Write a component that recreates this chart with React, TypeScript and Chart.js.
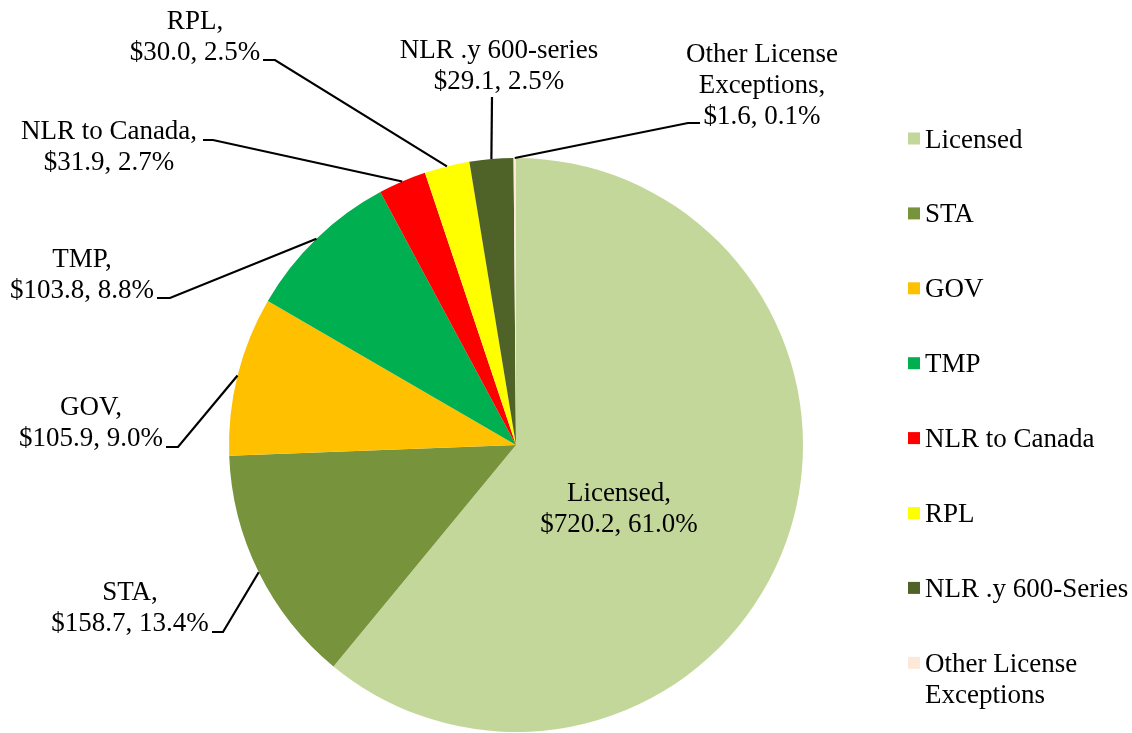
import React, { useEffect, useRef } from "react";
import { Chart, registerables } from "chart.js";

Chart.register(...registerables);

const categories = [
  "Licensed",
  "STA",
  "GOV",
  "TMP",
  "NLR to Canada",
  "RPL",
  "NLR .y 600-Series",
  "Other License Exceptions",
];
const values = [720.2, 158.7, 105.9, 103.8, 31.9, 30.0, 29.1, 1.6];
const percents = [61.0, 13.4, 9.0, 8.8, 2.7, 2.5, 2.5, 0.1];
const labelNames = [
  ["Licensed,"],
  ["STA,"],
  ["GOV,"],
  ["TMP,"],
  ["NLR to Canada,"],
  ["RPL,"],
  ["NLR .y 600-series"],
  ["Other License", "Exceptions,"],
];
const legendLines = [
  ["Licensed"],
  ["STA"],
  ["GOV"],
  ["TMP"],
  ["NLR to Canada"],
  ["RPL"],
  ["NLR .y 600-Series"],
  ["Other License", "Exceptions"],
];
const colors = [
  "#C4D79B",
  "#77933C",
  "#FFC000",
  "#00B050",
  "#FF0000",
  "#FFFF00",
  "#4F6228",
  "#FDE9D9",
];

// label layout: center x, first baseline, leader points (from text side toward the arc)
type LabelLayout = { cx: number; y0: number; leader: number[][] | null };
const labelLayout: LabelLayout[] = [
  { cx: 619, y0: 501, leader: null },
  { cx: 130, y0: 600, leader: [[212, 632], [223, 632]] },
  { cx: 91, y0: 415, leader: [[166, 447], [178, 447]] },
  { cx: 82, y0: 267, leader: [[157, 298], [170, 298]] },
  { cx: 109, y0: 139, leader: [[203, 140], [213, 140]] },
  { cx: 195, y0: 29, leader: [[263, 60], [275, 60]] },
  { cx: 499, y0: 58, leader: [[492, 97]] },
  { cx: 762, y0: 62, leader: [[700, 123], [688, 123]] },
];

const FONT = '27px "Liberation Serif", "Times New Roman", serif';
const LINE_H = 31;

const labelPlugin = {
  id: "pieLabels",
  afterDatasetsDraw(chart: any) {
    const ctx = chart.ctx;
    const meta = chart.getDatasetMeta(0);
    ctx.save();
    ctx.font = FONT;
    ctx.fillStyle = "#000";
    ctx.strokeStyle = "#000";
    ctx.lineWidth = 2.2;
    ctx.textAlign = "center";
    ctx.textBaseline = "alphabetic";
    meta.data.forEach((el: any, i: number) => {
      const p = el.getProps(["x", "y", "startAngle", "endAngle", "outerRadius"], true);
      const mid = (p.startAngle + p.endAngle) / 2;
      const ax = p.x + Math.cos(mid) * p.outerRadius;
      const ay = p.y + Math.sin(mid) * p.outerRadius;
      const lay = labelLayout[i];
      const lines = [
        ...labelNames[i],
        `$${values[i].toFixed(1)}, ${percents[i].toFixed(1)}%`,
      ];
      lines.forEach((t, k) => ctx.fillText(t, lay.cx, lay.y0 + k * LINE_H));
      if (lay.leader) {
        ctx.beginPath();
        ctx.moveTo(lay.leader[0][0], lay.leader[0][1]);
        for (let k = 1; k < lay.leader.length; k++) ctx.lineTo(lay.leader[k][0], lay.leader[k][1]);
        ctx.lineTo(ax, ay);
        ctx.stroke();
      }
    });
    // legend
    ctx.textAlign = "left";
    categories.forEach((_c, i) => {
      const cy = 138.5 + i * 74.9;
      ctx.fillStyle = colors[i];
      ctx.fillRect(908, cy - 6, 12, 12);
      ctx.fillStyle = "#000";
      legendLines[i].forEach((t, k) => ctx.fillText(t, 925, cy + 9 + k * LINE_H));
    });
    ctx.restore();
  },
};

export default function App() {
  const ref = useRef<HTMLCanvasElement | null>(null);
  useEffect(() => {
    if (!ref.current) return;
    const chart = new Chart(ref.current, {
      type: "pie",
      data: {
        labels: categories,
        datasets: [
          {
            data: values,
            backgroundColor: colors,
            borderWidth: 0,
          },
        ],
      },
      options: {
        responsive: false,
        animation: false,
        devicePixelRatio: 1,
        layout: { padding: { left: 229, right: 329, top: 158, bottom: 1 } },
        plugins: {
          legend: { display: false },
          tooltip: { enabled: false },
        },
        events: [],
      },
      plugins: [labelPlugin],
    } as any);
    return () => chart.destroy();
  }, []);
  return (
    <div style={{ position: "fixed", left: 0, top: 0, width: 1132, height: 733, background: "#fff" }}>
      <canvas ref={ref} width={1132} height={733} />
    </div>
  );
}
